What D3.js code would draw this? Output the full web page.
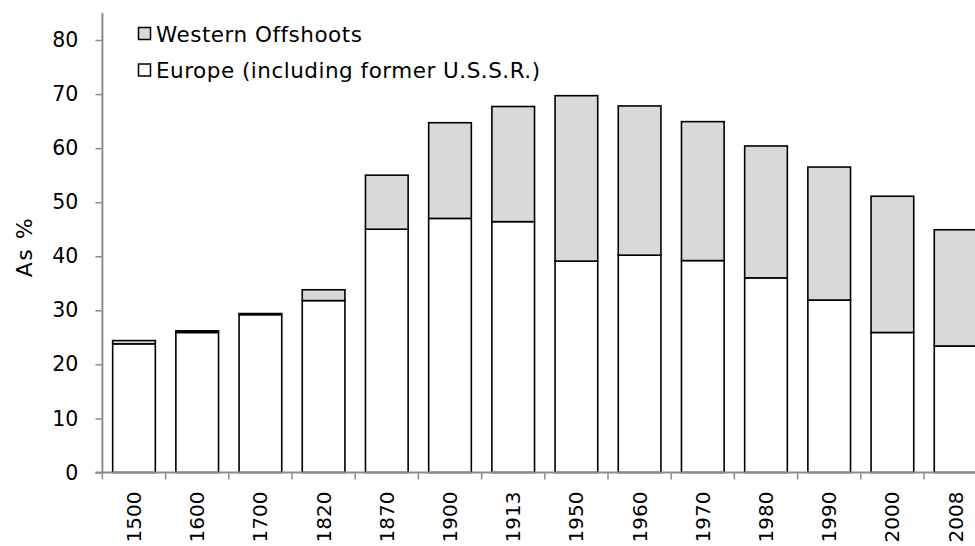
<!DOCTYPE html>
<html>
<head>
<meta charset="utf-8">
<script src="https://cdn.jsdelivr.net/npm/d3@7"></script>
<style>
  html, body { margin: 0; padding: 0; background: #fff; }
  svg { display: block; }
  text { font-family: "DejaVu Sans", "Noto Sans", sans-serif; fill: #000; }
</style>
</head>
<body>
<svg id="chart" width="975" height="546"></svg>
<script>
const years = ["1500","1600","1700","1820","1870","1900","1913","1950","1960","1970","1980","1990","2000","2008"];
const europe = [23.8, 25.9, 29.2, 31.8, 45.0, 47.0, 46.4, 39.1, 40.2, 39.2, 36.0, 31.9, 25.9, 23.4];
const offshoots = [0.6, 0.3, 0.2, 2.0, 10.0, 17.7, 21.3, 30.6, 27.6, 25.7, 24.4, 24.6, 25.2, 21.5];
const yTicks = [0, 10, 20, 30, 40, 50, 60, 70, 80];
const seriesNames = ["Western Offshoots", "Europe (including former U.S.S.R.)"];
const seriesColors = ["#d9d9d9", "#ffffff"];

const svg = d3.select("#chart");
const x0 = 102.4, step = 63.2;
const x = d3.scaleBand().domain(years).range([x0, x0 + step * years.length]).paddingInner(0.325).paddingOuter(0.1625);
const y = d3.scaleLinear().domain([0, 80]).range([472.5, 40]);

const data = years.map((yr, i) => ({ year: yr, europe: europe[i], offshoots: offshoots[i] }));
const stack = d3.stack().keys(["europe", "offshoots"])(data);

// bars
const colorFor = { europe: seriesColors[1], offshoots: seriesColors[0] };
stack.forEach(layer => {
  svg.append("g").selectAll("rect").data(layer).join("rect")
    .attr("x", d => x(d.data.year))
    .attr("width", x.bandwidth())
    .attr("y", d => y(d[1]))
    .attr("height", d => y(d[0]) - y(d[1]))
    .attr("fill", colorFor[layer.key])
    .attr("stroke", "#000")
    .attr("stroke-width", 1.6);
});

// y axis
const yAxis = d3.axisLeft(y).tickValues(yTicks).tickSize(7).tickPadding(17);
const gy = svg.append("g").attr("transform", `translate(${x0},0)`).call(yAxis);
gy.select(".domain").attr("d", `M0,${y(0)}V13`).attr("stroke", "#8c8c8c").attr("stroke-width", 2);
gy.selectAll(".tick line").attr("stroke", "#8c8c8c").attr("stroke-width", 1.5);
gy.selectAll(".tick text").attr("font-size", 20.5).attr("font-family", "DejaVu Sans").attr("fill", "#000");

// x axis: ticks at category boundaries
const gx = svg.append("g").attr("transform", `translate(0,${y(0)})`);
gx.append("line").attr("x1", x0 - 7).attr("x2", x0 + step * years.length).attr("y1", 0).attr("y2", 0)
  .attr("stroke", "#8c8c8c").attr("stroke-width", 2);
const boundaries = d3.range(years.length + 1).map(i => x0 + step * i);
gx.selectAll("line.b").data(boundaries).join("line").attr("class", "b")
  .attr("x1", d => d).attr("x2", d => d).attr("y1", 0).attr("y2", 7)
  .attr("stroke", "#8c8c8c").attr("stroke-width", 1.5);
gx.selectAll("text").data(years).join("text")
  .attr("transform", d => `translate(${x(d) + x.bandwidth() / 2 + 7},19) rotate(-90)`)
  .attr("text-anchor", "end")
  .attr("font-size", 20)
  .text(d => d);

// y label
svg.append("text").attr("transform", "translate(32,247) rotate(-90)")
  .attr("text-anchor", "middle").attr("font-size", 22).attr("letter-spacing", 1.5).text("As %");

// legend
const legend = svg.append("g");
[0, 1].forEach(i => {
  const cy = 34 + i * 36.5;
  legend.append("rect").attr("x", 138.5).attr("y", cy - 6.5).attr("width", 12).attr("height", 12)
    .attr("fill", seriesColors[i]).attr("stroke", "#000").attr("stroke-width", 1.5);
  legend.append("text").attr("x", 156).attr("y", cy + 7.5).attr("font-size", 21.5).attr("letter-spacing", 0.5).text(seriesNames[i]);
});
</script>
</body>
</html>
